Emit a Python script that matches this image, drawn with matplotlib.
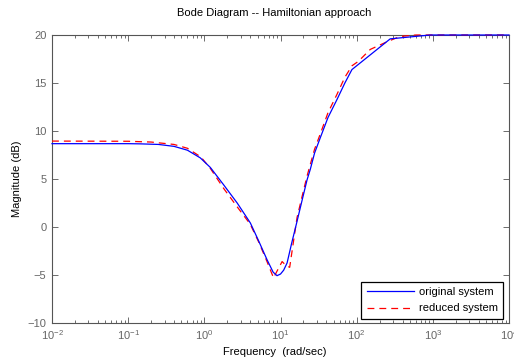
import numpy as np
import matplotlib.pyplot as plt
from matplotlib.ticker import LogLocator, NullFormatter, MultipleLocator

plt.rcParams['font.family'] = ['Liberation Sans', 'DejaVu Sans']
plt.rcParams['mathtext.fontset'] = 'custom'
plt.rcParams['mathtext.rm'] = 'Liberation Sans'
plt.rcParams['mathtext.it'] = 'Liberation Sans:italic'

# frequency response of the full model (rad/sec, dB)
w_orig = [0.01, 0.1, 0.145, 0.25, 0.4, 0.6, 0.885, 1.2, 1.79, 2.7, 4.02, 5.2,
          6.65, 8.0, 9.0, 10.0, 11.0, 12.2, 14.0, 16.5, 19.5, 22.3, 24.6, 28.0,
          33.3, 42.0, 55.0, 70.0, 86.7, 276.0, 925.0, 10000.0]
mag_orig = [8.68, 8.68, 8.66, 8.6, 8.4, 8.0, 7.2, 6.2, 4.4, 2.5, 0.42, -1.5,
            -3.4, -4.7, -5.07, -4.9, -4.5, -3.75, -1.7, 0.6, 3.0, 4.9, 6.0, 7.7,
            9.3, 11.4, 13.26, 15.0, 16.4, 19.6, 20.0, 20.0]

# frequency response of the reduced model
w_red = [0.01, 0.1, 0.2, 0.4, 0.6, 0.9, 1.2, 1.8, 2.7, 4.0, 5.2, 6.65, 8.1,
         9.0, 10.5, 11.8, 13.2, 14.5, 16.5, 19.5, 22.3, 28.0, 33.3, 42.0, 55.0,
         70.0, 87.0, 105.0, 151.0, 251.0, 372.0, 600.0, 10000.0]
mag_red = [8.95, 8.93, 8.85, 8.6, 8.2, 7.3, 6.1, 4.0, 2.1, 0.3, -1.6, -3.6, -5.3,
           -4.6, -3.6, -4.0, -4.2, -2.0, 1.0, 3.4, 5.3, 8.1, 9.7, 11.9, 13.8,
           15.6, 16.8, 17.25, 18.5, 19.3, 19.85, 20.0, 20.0]

fig = plt.figure(figsize=(5.14, 3.58), dpi=100)
ax = fig.add_axes([52/514, 35/358, 457/514, 288/358])

# drawn above the frame so the flat 20 dB part stays visible on the top edge
ax.semilogx(w_orig, mag_orig, color='#0000ff', lw=0.9, label='original system',
            zorder=4, clip_on=False)
ax.semilogx(w_red, mag_red, color='#ff0000', lw=0.9, dashes=(5.5, 4),
            label='reduced system', zorder=3, clip_on=False)

ax.set_xlim(1e-2, 1e4)
ax.set_ylim(-10, 20)
ax.xaxis.set_major_locator(LogLocator(base=10, numticks=10))
ax.xaxis.set_minor_locator(LogLocator(base=10, subs=np.arange(2, 10), numticks=100))
ax.xaxis.set_minor_formatter(NullFormatter())
ax.yaxis.set_major_locator(MultipleLocator(5))

gray = '#555555'
for s in ax.spines.values():
    s.set_color(gray)
    s.set_linewidth(0.8)
ax.tick_params(which='both', direction='in', top=True, right=True,
               colors=gray, labelsize=8, width=0.6)
ax.tick_params(which='major', length=4, pad=4)
ax.tick_params(which='minor', length=2)
for t in ax.get_xticklabels() + ax.get_yticklabels():
    t.set_color('#666666')

ax.set_title('Bode Diagram -- Hamiltonian approach', fontsize=8, pad=14, x=0.487)
ax.set_xlabel('Frequency  (rad/sec)', fontsize=8, labelpad=3)
ax.xaxis.set_label_coords(0.487, -0.085)
ax.set_ylabel('Magnitude (dB)', fontsize=8, labelpad=4)

leg = ax.legend(loc='lower right', bbox_to_anchor=(0.987, 0.014), borderaxespad=0,
                fontsize=8, fancybox=False, framealpha=1, edgecolor='black',
                handlelength=4.2, handletextpad=0.45, borderpad=0.5,
                labelspacing=0.55)
leg.get_frame().set_linewidth(0.9)

fig.savefig('out.png', dpi=100)
